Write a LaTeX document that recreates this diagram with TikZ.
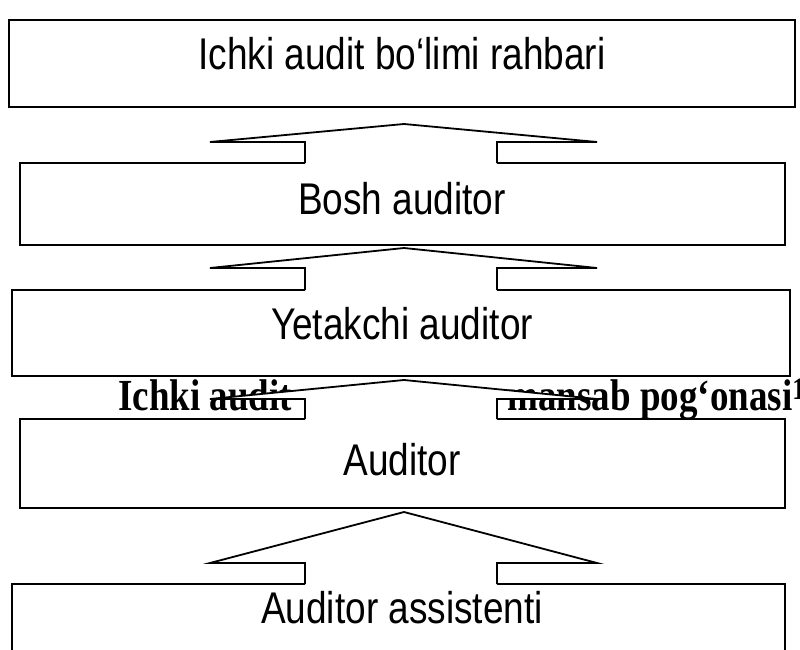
\documentclass[tikz,border=0pt]{standalone}
\usepackage{fontspec}
\setmainfont{Liberation Serif}
\setsansfont{Liberation Sans}
\newcommand{\tall}[1]{\scalebox{1}[1.2]{#1}}
\tikzset{
  ln/.style={line width=1.8pt, line join=miter},
  lbl/.style={font=\sffamily\fontsize{37}{40}\selectfont, inner sep=0pt, anchor=base},
  over/.style={font=\rmfamily\bfseries\fontsize{37}{40}\selectfont, inner sep=0pt, anchor=base},
}
\newcommand{\uparr}[3]{%
  \fill[white] (305,#3+1.5) -- (305,#2) -- (210,#2) -- (404,#1) -- (597,#2) -- (497,#2) -- (497,#3+1.5) -- cycle;
  \draw[ln] (305,#3) -- (305,#2) -- (210,#2) -- (404,#1) -- (597,#2) -- (497,#2) -- (497,#3);}
\begin{document}
\begin{tikzpicture}[x=1pt,y=-1pt]
\useasboundingbox (0,0) rectangle (800,650);
% boxes
\draw[ln] (9,20) rectangle (795,107);
\node[lbl] (t1) at (402,70) {\tall{Ichki audit bo‘limi rahbari}};
\draw[ln] (305,163) -- (20,163) -- (20,245) -- (785,245) -- (785,163) -- (497,163);
\node[lbl] (t2) at (402,214) {\tall{Bosh auditor}};
\draw[ln] (305,290) -- (12,290) -- (12,376) -- (790,376) -- (790,290) -- (497,290);
\node[lbl] (t3) at (402,339) {\tall{Yetakchi auditor}};
% overlay title (partly hidden)
\node[over, anchor=base west] (ov1) at (118,410) {\tall{Ichki audit}};
\node[over, anchor=base east] (ov2) at (806,410) {\tall{mansab pog‘onasi\textsuperscript{1}}};
\draw[ln] (305,419) -- (20,419) -- (20,508) -- (785,508) -- (785,419) -- (497,419);
\node[lbl] (t4) at (402,475) {\tall{Auditor}};
\draw[ln] (305,584) -- (12,584) -- (12,652);
\draw[ln] (497,584) -- (785,584) -- (785,652);
\node[lbl] (t5) at (402,623) {\tall{Auditor assistenti}};
% arrows
\uparr{124}{142}{163}
\uparr{248}{268}{290}
\uparr{380}{399}{419}
\uparr{512}{563}{584}
\end{tikzpicture}
\end{document}
